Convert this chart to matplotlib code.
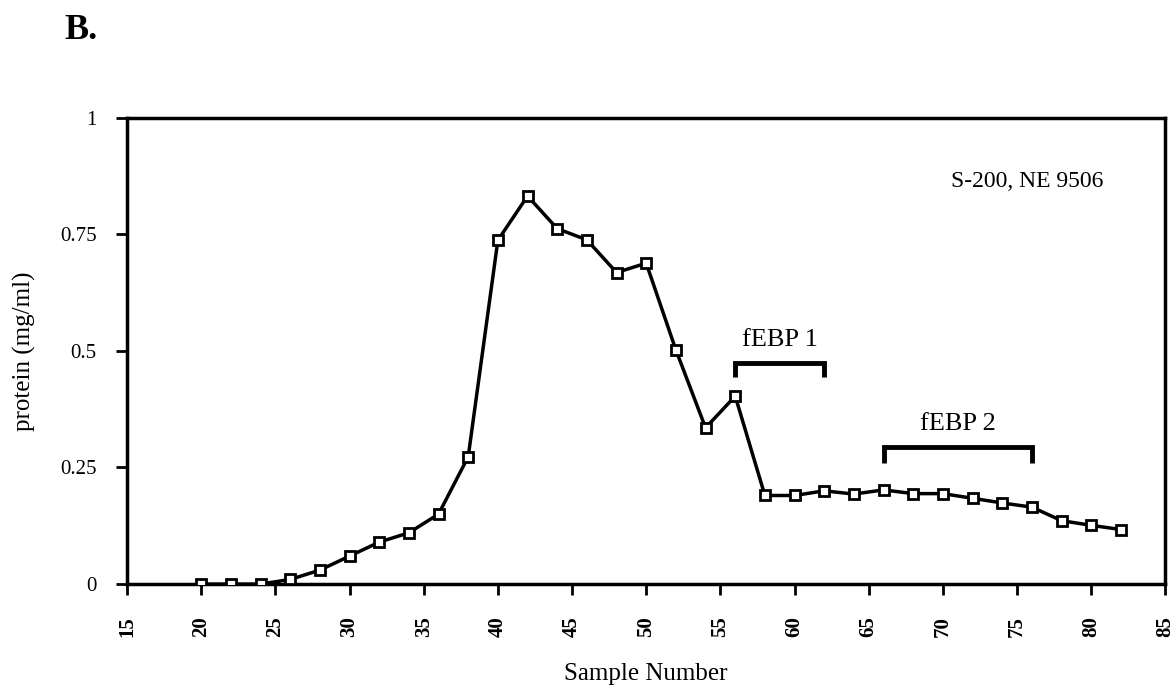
import matplotlib.pyplot as plt

plt.rcParams['font.family'] = ['Liberation Serif', 'DejaVu Serif']

samples = [20, 22, 24, 26, 28, 30, 32, 34, 36, 38, 40, 42, 44, 46, 48, 50,
           52, 54, 56, 58, 60, 62, 64, 66, 68, 70, 72, 74, 76, 78, 80, 82]
protein = [0.0, 0.0, 0.0, 0.01, 0.03, 0.06, 0.09, 0.11, 0.15, 0.273, 0.737, 0.832,
           0.762, 0.738, 0.668, 0.688, 0.502, 0.335, 0.403, 0.19, 0.19, 0.2,
           0.193, 0.202, 0.194, 0.194, 0.184, 0.174, 0.165, 0.136, 0.126, 0.117]

yticks = [0, 0.25, 0.5, 0.75, 1]
ytick_labels = ['0', '0.25', '0.5', '0.75', '1']
xticks = list(range(15, 90, 5))

# bracket ranges for the two fractions
brackets = [('fEBP 1', 56, 62, 0.474, 0.444), ('fEBP 2', 66, 76, 0.295, 0.26)]

fig = plt.figure(figsize=(11.76, 6.88), dpi=100)
ax = fig.add_axes([0.108, 0.151, 0.883, 0.678])

ax.plot(samples, protein, 'k-', linewidth=2.5, marker='s', markersize=7.5,
        markerfacecolor='white', markeredgecolor='black', markeredgewidth=2, zorder=3)

for label, x0, x1, ytop, ybot in brackets:
    ax.plot([x0, x0, x1, x1], [ybot, ytop, ytop, ybot], 'k-', linewidth=3.5,
            solid_capstyle='butt', solid_joinstyle='miter')
    ax.text((x0 + x1) / 2, ytop + 0.025, label, ha='center', va='bottom', fontsize=19)

ax.text(75.7, 0.863, 'S-200, NE 9506', ha='center', va='center', fontsize=17)

ax.set_xlim(15, 85)
ax.set_ylim(0, 1)
ax.set_xticks(xticks)
ax.set_xticklabels([str(t) for t in xticks], rotation=90, fontsize=15, fontweight='bold')
ax.set_yticks(yticks)
ax.set_yticklabels(ytick_labels, fontsize=15)
ax.tick_params(direction='out', length=8, width=2)
ax.tick_params(axis='x', pad=15)
ax.tick_params(axis='y', pad=14)
for s in ax.spines.values():
    s.set_linewidth(2.5)

ax.set_xlabel('Sample Number', fontsize=18, labelpad=19)
ax.set_ylabel('protein (mg/ml)', fontsize=18, labelpad=17)

fig.text(0.055, 0.956, 'B.', fontsize=26, fontweight='bold', ha='left', va='center')

fig.savefig('out.png', dpi=100)
